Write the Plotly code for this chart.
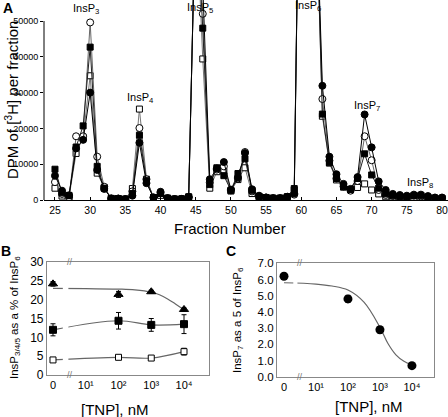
import plotly.graph_objects as go

W, H = 448, 417

# ---------------- Panel A data ----------------
fractions = list(range(25, 81))
open_circle = [5000, 1700, 800, 17800, 17800, 49600, 12100, 3700, 400, 400, 200, 2400, 20100, 5800, 700,
               2000, 500, 250, 300, 800, 85000, 52000, 4900, 8500, 9400, 2700, 6000, 13400, 2400, 1000,
               700, 500, 500, 900, 1500, 140000, 200000, 92000, 28200, 11000, 6000, 3800, 2600, 5300,
               17800, 11100, 2800, 1400, 1100, 1000, 900, 1200, 1000, 800, 500, 500]
filled_square = [8600, 2000, 1300, 14800, 20700, 42700, 9400, 3300, 450, 400, 250, 1800, 18100, 5400, 700,
                 1800, 500, 250, 300, 900, 85000, 48000, 4300, 9000, 6800, 2700, 7400, 11500, 2700, 1000,
                 700, 500, 500, 900, 3200, 140000, 200000, 92000, 24000, 10500, 6000, 3700, 2900, 6000,
                 12900, 7000, 3300, 1700, 1200, 1000, 900, 1200, 1300, 800, 500, 500]
open_square = [3300, 1100, 800, 13000, 17500, 34700, 7500, 3500, 400, 400, 200, 3200, 25400, 5800, 700,
               1300, 500, 250, 300, 800, 85000, 39400, 3300, 7900, 8000, 2500, 5700, 9000, 1800, 900,
               700, 500, 500, 800, 2800, 140000, 200000, 92000, 23400, 10300, 5600, 3600, 2900, 3500,
               4500, 2800, 1700, 900, 600, 500, 400, 700, 500, 400, 300, 400]
filled_circle = [6800, 2600, 1300, 14400, 16800, 30000, 8400, 3100, 450, 400, 250, 1200, 16000, 4700, 700,
                 2300, 500, 250, 300, 800, 85000, 60000, 5800, 8800, 10600, 2900, 6300, 13100, 3000, 1200,
                 700, 500, 500, 900, 1800, 140000, 200000, 92000, 31900, 12100, 7200, 4500, 3100, 6400,
                 23900, 14700, 5200, 2800, 1700, 1400, 1200, 1500, 1500, 1100, 700, 700]
a_xticks = [25, 30, 35, 40, 45, 50, 55, 60, 65, 70, 75, 80]
a_yticks = [0, 10000, 20000, 30000, 40000, 50000]
peak_labels = ["InsP<sub>3</sub>", "InsP<sub>4</sub>", "InsP<sub>5</sub>", "InsP<sub>6</sub>",
               "InsP<sub>7</sub>", "InsP<sub>8</sub>"]

# ---------------- Panel B data ----------------
tnp = [0, 100, 1000, 10000]
tri_vals = [24.2, 21.4, 22.1, 17.4]
tri_err = [0.6, 0.8, 0.4, 0.4]
fsq_vals = [12.0, 14.4, 13.3, 13.5]
fsq_err = [1.6, 2.2, 1.7, 2.5]
osq_vals = [4.0, 4.7, 4.5, 6.2]
osq_err = [0.3, 0.4, 0.3, 0.9]
tri_fit_tnp = [1, 10, 100, 316, 1000, 1780, 3160, 5620, 10000]
tri_fit_vals = [23.0, 22.95, 22.8, 22.6, 22.0, 21.3, 20.2, 18.8, 17.3]

# ---------------- Panel C data ----------------
ip7_vals = [6.2, 4.8, 2.9, 0.68]
ip7_err = [0.1, 0.22, 0.2, 0.08]
ip7_fit_tnp = [1, 10, 31.6, 100, 316, 1000, 1780, 3160, 5620, 10000]
ip7_fit_vals = [5.8, 5.72, 5.6, 5.35, 4.6, 3.05, 2.05, 1.35, 0.95, 0.72]

tnp_ticks = [0, 10, 100, 1000, 10000]
tnp_ticktext = ["0", "10\u00b9", "10\u00b2", "10\u00b3", "10\u2074"]


def pos(c):
    # 0 is drawn at the 10^0 position of the log axis (broken axis)
    return 1 if c == 0 else c


FONT = "Liberation Sans, Arial, sans-serif"
fig = go.Figure()

# Panel A traces
series = [
    (open_square, "square", True, 6, "#777777"),
    (open_circle, "circle", True, 7, "#666666"),
    (filled_square, "square", False, 6, "#222222"),
    (filled_circle, "circle", False, 7, "#000000"),
]
for vals, sym, is_open, sz, lc in series:
    fig.add_trace(go.Scatter(
        x=fractions, y=vals, mode="lines+markers", xaxis="x", yaxis="y",
        line=dict(color=lc, width=1),
        marker=dict(symbol=sym, size=sz,
                    color="white" if is_open else "black",
                    line=dict(color="black", width=1)),
        showlegend=False))

# Panel B traces
fig.add_trace(go.Scatter(x=[pos(c) for c in tri_fit_tnp], y=tri_fit_vals, mode="lines",
                         line=dict(color="#666666", width=1.2, shape="spline"),
                         xaxis="x2", yaxis="y2", showlegend=False))
fig.add_trace(go.Scatter(x=[pos(c) for c in tnp], y=fsq_vals, mode="lines",
                         line=dict(color="#666666", width=1.2, shape="spline"),
                         xaxis="x2", yaxis="y2", showlegend=False))
fig.add_trace(go.Scatter(x=[pos(c) for c in tnp], y=osq_vals, mode="lines",
                         line=dict(color="#666666", width=1.2, shape="spline"),
                         xaxis="x2", yaxis="y2", showlegend=False))
for vals, err, sym, fill, sz in [(tri_vals, tri_err, "triangle-up", "black", 8),
                                 (fsq_vals, fsq_err, "square", "black", 7),
                                 (osq_vals, osq_err, "square", "white", 6)]:
    fig.add_trace(go.Scatter(
        x=[pos(c) for c in tnp], y=vals, mode="markers", xaxis="x2", yaxis="y2",
        error_y=dict(type="data", array=err, color="black", thickness=1, width=2.5),
        marker=dict(symbol=sym, size=sz, color=fill, line=dict(color="black", width=1)),
        showlegend=False))

# Panel C traces
fig.add_trace(go.Scatter(x=[pos(c) for c in ip7_fit_tnp], y=ip7_fit_vals, mode="lines",
                         line=dict(color="#666666", width=1.2, shape="spline"),
                         xaxis="x3", yaxis="y3", showlegend=False))
fig.add_trace(go.Scatter(
    x=[pos(c) for c in tnp], y=ip7_vals, mode="markers", xaxis="x3", yaxis="y3",
    error_y=dict(type="data", array=ip7_err, color="black", thickness=1, width=2.5),
    marker=dict(symbol="circle", size=9, color="black"), showlegend=False))


def px(x):
    return x / W


def py(y):
    return 1 - y / H


tickfont = dict(family=FONT, size=11, color="black")
common = dict(showgrid=False, zeroline=False, automargin=False)

layout = dict(
    width=W, height=H, margin=dict(l=0, r=0, t=0, b=0),
    paper_bgcolor="white", plot_bgcolor="white",
    font=dict(family=FONT, color="black"),
    xaxis=dict(domain=[px(44), 1], range=[23.44, 80.85], tickvals=a_xticks,
               showline=True, linecolor="black", linewidth=1, ticks="inside", ticklen=3,
               tickcolor="black", tickfont=dict(family=FONT, size=10.5, color="black"),
               ticklabeloverflow="allow", anchor="y", **common),
    yaxis=dict(domain=[py(200), 1], range=[0, 55866], tickvals=a_yticks,
               ticktext=[str(v) for v in a_yticks],
               showline=False, ticks="outside", ticklen=3, tickcolor="black",
               tickfont=dict(family=FONT, size=9, color="black"), anchor="x", **common),
    xaxis2=dict(domain=[px(47), px(209)], type="log", range=[-0.183, 4.763],
                tickvals=[pos(c) for c in tnp_ticks], ticktext=tnp_ticktext,
                showline=True, mirror=True, linecolor="#888888", linewidth=1.2, ticks="",
                tickfont=tickfont, anchor="y2", **common),
    yaxis2=dict(domain=[py(375), py(262)], range=[0, 30], tickvals=[0, 5, 10, 15, 20, 25, 30],
                showline=True, mirror=True, linecolor="#888888", linewidth=1.2, ticks="",
                tickfont=dict(family=FONT, size=12, color="black"), anchor="x2", **common),
    xaxis3=dict(domain=[px(277), px(434)], type="log", range=[-0.219, 4.69],
                tickvals=[pos(c) for c in tnp_ticks], ticktext=tnp_ticktext,
                showline=True, mirror=True, linecolor="#888888", linewidth=1.2, ticks="",
                tickfont=tickfont, anchor="y3", **common),
    yaxis3=dict(domain=[py(376.7), py(263.3)], range=[0, 7],
                tickvals=[0, 1, 2, 3, 4, 5, 6, 7], tickformat=".1f",
                showline=True, mirror=True, linecolor="#888888", linewidth=1.2, ticks="",
                tickfont=dict(family=FONT, size=11.5, color="black"), anchor="x3", **common),
)
fig.update_layout(**layout)

shapes = [
    # A y-axis line only up to 50000
    dict(type="line", xref="paper", yref="y", x0=px(44), x1=px(44), y0=0, y1=50000,
         line=dict(color="black", width=1)),
    # gaps in the fitted lines at the axis break
    dict(type="rect", xref="x2", yref="y2", x0=10 ** 0.30, x1=10 ** 0.47, y0=0.4, y1=29.6,
         fillcolor="white", line=dict(width=0), layer="above"),
    dict(type="rect", xref="x3", yref="y3", x0=10 ** 0.29, x1=10 ** 0.42, y0=0.1, y1=6.9,
         fillcolor="white", line=dict(width=0), layer="above"),
]
fig.update_layout(shapes=shapes)

ann = []
def add(text, x, y, size, **kw):
    ann.append(dict(text=text, x=px(x), y=py(y), xref="paper", yref="paper", showarrow=False,
                    font=dict(family=FONT, size=size, color=kw.pop("color", "black")),
                    xanchor=kw.pop("xanchor", "center"), yanchor=kw.pop("yanchor", "middle"), **kw))

add("<b>A</b>", 8, 8, 14)
add("<b>B</b>", 6, 251, 14)
add("<b>C</b>", 231, 251, 14)
peak_pos = [(86, 9), (140, 98), (200, 8), (308, 6), (367, 106), (420, 183)]
for lab, (x, y) in zip(peak_labels, peak_pos):
    add(lab, x, y, 11)
add("DPM of [<sup>3</sup>H] per fraction", 11, 100, 15, textangle=-90)
add("Fraction Number", 230, 228, 15)
add("[TNP], nM", 115, 409, 15)
add("[TNP], nM", 369, 406, 15)
add("InsP<sub>3/4/5</sub> as a % of InsP<sub>6</sub>", 15, 318, 11.5, textangle=-90)
add("InsP<sub>7</sub> as a 5 of InsP<sub>6</sub>", 238, 320, 11.5, textangle=-90)
# axis break marks
for x, y in [(70, 262), (70, 375), (300, 263.3), (300, 376.7)]:
    add("//", x, y, 9, color="#777777")
fig.update_layout(annotations=ann)

fig.write_html("out.html", config={"displayModeBar": False},
               post_script="document.body.style.margin='0px';document.body.style.overflow='hidden';")
